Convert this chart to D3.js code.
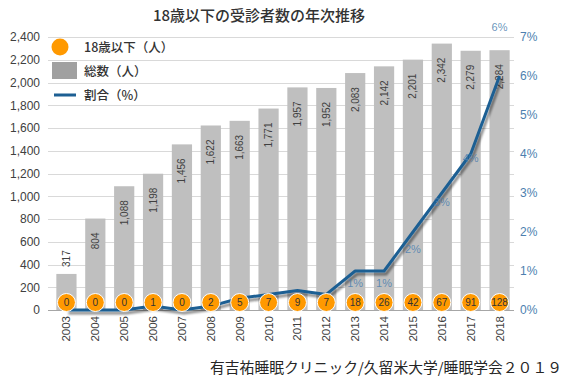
<!DOCTYPE html>
<html><head><meta charset="utf-8">
<script src="https://cdn.jsdelivr.net/npm/d3@7"></script>
<style>
body{margin:0;background:#fff;}
svg{display:block;}
</style></head>
<body><svg id="c" width="568" height="378"></svg>
<script>
const years = ["2003","2004","2005","2006","2007","2008","2009","2010","2011","2012","2013","2014","2015","2016","2017","2018"];
const totals = [317,804,1088,1198,1456,1622,1663,1771,1957,1952,2083,2142,2201,2342,2279,2284];
const under18 = [0,0,0,1,0,2,5,7,9,7,18,26,42,67,91,128];
const ratio = [0,0,0,0.1,0,0.1,0.3,0.4,0.5,0.4,1.0,1.0,2.0,3.0,4.0,6.0];
const leftTicks = [0,200,400,600,800,1000,1200,1400,1600,1800,2000,2200,2400];
const rightTicks = [0,1,2,3,4,5,6,7];
const titleText = "18歳以下の受診者数の年次推移";
const legendLabels = ["18歳以下（人）","総数（人）","割合（%）"];
const footerText = "有吉祐睡眠クリニック/久留米大学/睡眠学会２０１９";

const svg = d3.select("#c");
const JP = "'Noto Sans CJK JP','Noto Sans',sans-serif";
const NUM = "'Liberation Sans','Noto Sans',sans-serif";
const textCol = "#404040";
const blue = "#1d5f93";
const blueText = "#4d7faf";

const x = d3.scaleBand().domain(years).range([52,514]).paddingInner(0.3).paddingOuter(0.15);
const yL = d3.scaleLinear().domain([0,2400]).range([310,37]);
const yR = d3.scaleLinear().domain([0,7]).range([310,37]);
const cxOf = i => x(years[i]) + x.bandwidth()/2;

const defs = svg.append("defs");
const f = defs.append("filter").attr("id","sh").attr("x","-20%").attr("y","-20%").attr("width","140%").attr("height","140%");
f.append("feGaussianBlur").attr("in","SourceAlpha").attr("stdDeviation",1.2).attr("result","b");
f.append("feOffset").attr("in","b").attr("dx",2).attr("dy",2.5).attr("result","o");
f.append("feComponentTransfer").attr("in","o").attr("result","o2").append("feFuncA").attr("type","linear").attr("slope",0.45);
const fm = f.append("feMerge"); fm.append("feMergeNode").attr("in","o2"); fm.append("feMergeNode").attr("in","SourceGraphic");

// title
svg.append("text").attr("x",259).attr("y",21).attr("text-anchor","middle")
  .attr("font-family",JP).attr("font-size",15).attr("font-weight",500).attr("fill","#333").text(titleText);

// gridlines
svg.append("g").selectAll("line").data(leftTicks).join("line")
  .attr("x1",48).attr("x2",514).attr("y1",d=>Math.round(yL(d))+0.5).attr("y2",d=>Math.round(yL(d))+0.5)
  .attr("stroke",d=> d===0 ? "#a6a6a6" : "#d9d9d9").attr("stroke-width",1);

// left axis
const ga = svg.append("g").attr("transform","translate(40,0)")
  .call(d3.axisLeft(yL).tickValues(leftTicks).tickSize(0).tickPadding(0).tickFormat(d3.format(",")));
ga.select(".domain").remove();
ga.selectAll("text").attr("font-family",NUM).attr("font-size",12).attr("fill",textCol);

// right axis
const gr = svg.append("g").attr("transform","translate(520,0)")
  .call(d3.axisRight(yR).tickValues(rightTicks).tickSize(0).tickPadding(0).tickFormat(d=>d+"%"));
gr.select(".domain").remove();
gr.selectAll("text").attr("font-family",NUM).attr("font-size",12).attr("fill",blueText);

// bars
svg.append("g").selectAll("rect").data(totals).join("rect")
  .attr("x",(d,i)=>x(years[i])).attr("width",x.bandwidth())
  .attr("y",d=>yL(d)).attr("height",d=>yL(0)-yL(d)).attr("fill","#bfbfbf");

// bar labels
svg.append("g").selectAll("text").data(totals).join("text")
  .attr("transform",(d,i)=>{
    const inside = (yL(0)-yL(d)) > 60;
    const yy = inside ? yL(d)+14 : yL(d)-7;
    return `translate(${cxOf(i)+3.5},${yy}) rotate(-90)`;
  })
  .attr("text-anchor",d=>(yL(0)-yL(d))>60?"end":"start")
  .attr("font-family",NUM).attr("font-size",10).attr("fill",textCol)
  .text(d=>d3.format(",")(d));

// line
const line = d3.line().x((d,i)=>cxOf(i)).y(d=>yR(d));
svg.append("path").datum(ratio).attr("d",line).attr("fill","none")
  .attr("stroke",blue).attr("stroke-width",3).attr("stroke-linejoin","round").attr("filter","url(#sh)");

// ratio labels
const labelDy = {"2013":16,"2014":16,"2015":21,"2016":13,"2017":8};
const gl = svg.append("g");
ratio.forEach((v,i)=>{
  if(v<1) return;
  const yr = years[i];
  const yy = (yr in labelDy) ? yR(v)+labelDy[yr] : 31;
  gl.append("text").attr("x",cxOf(i)).attr("y",yy).attr("text-anchor","middle")
    .attr("font-family",NUM).attr("font-size",11).attr("fill",blueText).attr("fill-opacity",0.85)
    .text(Math.round(v)+"%");
});

// circles
const cy = yL(0)-7.5;
svg.append("g").selectAll("circle").data(under18).join("circle")
  .attr("cx",(d,i)=>cxOf(i)).attr("cy",cy).attr("r",9)
  .attr("fill","#ff9900").attr("stroke","#fff").attr("stroke-width",1);
svg.append("g").selectAll("text").data(under18).join("text")
  .attr("x",(d,i)=>cxOf(i)).attr("y",cy+3.6).attr("text-anchor","middle")
  .attr("font-family",NUM).attr("font-size",10).attr("fill","#333").text(d=>d);

// x axis labels
const gx = svg.append("g").attr("transform","translate(0,316)")
  .call(d3.axisBottom(x).tickSize(0).tickPadding(0));
gx.select(".domain").remove();
gx.selectAll("text").attr("transform","rotate(-90)").attr("text-anchor","end")
  .attr("dy","0.35em").attr("x",0).attr("y",0)
  .attr("font-family",NUM).attr("font-size",11.5).attr("fill",textCol);

// legend
const lg = svg.append("g");
lg.append("circle").attr("cx",60).attr("cy",47).attr("r",8.5).attr("fill","#ff9900");
lg.append("rect").attr("x",52).attr("y",62).attr("width",25).attr("height",17).attr("fill","#a0a0a0");
lg.append("line").attr("x1",54).attr("x2",76).attr("y1",95).attr("y2",95).attr("stroke",blue).attr("stroke-width",3);
lg.selectAll("text").data(legendLabels).join("text")
  .attr("x",84).attr("y",(d,i)=>47+i*24+4.5)
  .attr("font-family",JP).attr("font-size",12.5).attr("font-weight",500).attr("fill","#333").text(d=>d);

// footer
svg.append("text").attr("x",210).attr("y",373).attr("textLength",352).attr("lengthAdjust","spacingAndGlyphs")
  .attr("font-family",JP).attr("font-size",14.5).attr("fill","#262626").text(footerText);
</script></body></html>
